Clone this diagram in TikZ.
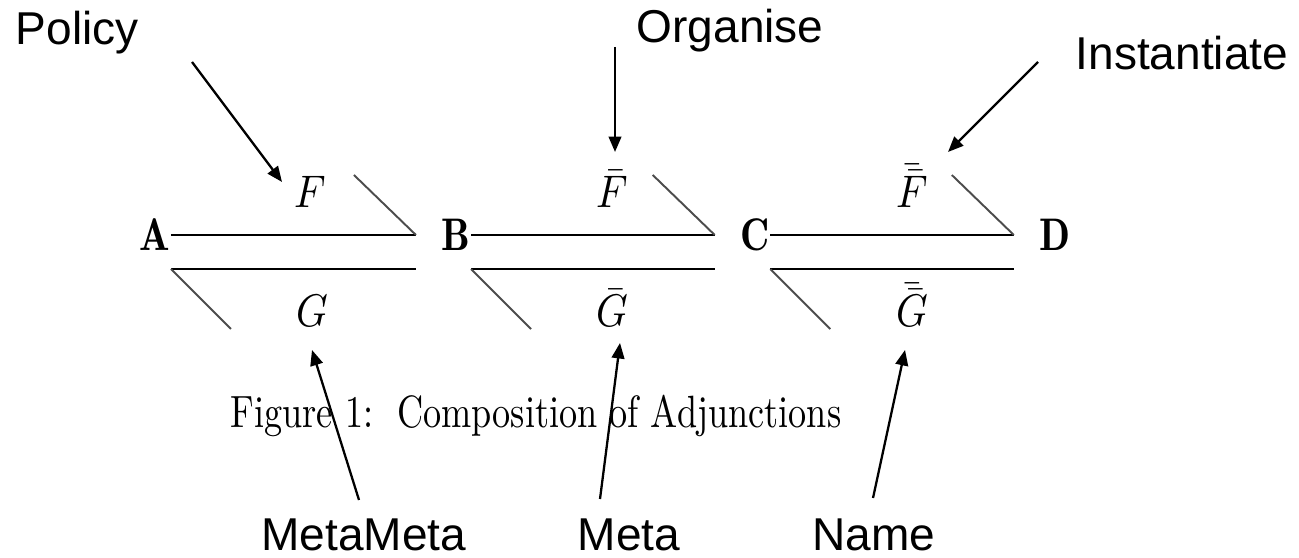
\documentclass[tikz,border=0pt]{standalone}
\usepackage{fontspec}
\newfontfamily\arial{Liberation Sans}
\usetikzlibrary{arrows.meta}
\newcommand{\stretchfig}[1]{\scalebox{1.15}[1.3]{#1}}
\begin{document}
\begin{tikzpicture}[x=0.1mm,y=-0.1mm,
  obj/.style={inner sep=0pt,font=\fontsize{10}{12}\selectfont},
  lbl/.style={inner sep=0pt,font=\fontsize{10}{12}\selectfont,anchor=base},
  note/.style={inner sep=0pt,font=\arial\fontsize{13.1}{15}\selectfont},
  mainline/.style={line width=0.8pt,black},
  barb/.style={line width=0.55pt,black!70},
  pointer/.style={line width=0.65pt,black,-{Triangle[length=4.4pt,width=3.6pt]}}]
\useasboundingbox (0,0) rectangle (1299,558);
% objects
\node[obj] (A) at (155,235) {\stretchfig{$\mathbf{A}$}};
\node[obj] (B) at (456,235) {\stretchfig{$\mathbf{B}$}};
\node[obj] (C) at (755,235) {\stretchfig{$\mathbf{C}$}};
\node[obj] (D) at (1055,235) {\stretchfig{$\mathbf{D}$}};
% labels
\node[lbl] (F1) at (310,208) {\stretchfig{$F$}};
\node[lbl] (F2) at (612,208) {\stretchfig{$\bar{F}$}};
\node[lbl] (F3) at (912,208) {\stretchfig{$\bar{\bar{F}}$}};
\node[lbl] (G1) at (312,327) {\stretchfig{$G$}};
\node[lbl] (G2) at (612,327) {\stretchfig{$\bar{G}$}};
\node[lbl] (G3) at (912,327) {\stretchfig{$\bar{\bar{G}}$}};
% caption
\node[inner sep=0pt,anchor=base,font=\fontsize{10.3}{12}\selectfont] (cap) at (536,428) {\scalebox{1}[1.25]{Figure 1:\ \ Composition of Adjunctions}};
% adjunction arrows
\foreach \s/\t in {A/B,B/C,C/D}{
  \draw[mainline,shorten >=2.5mm] (\s.east) -- (\t.west);
  \draw[barb] ([xshift=-2.5mm]\t.west) -- ++(-62,-60);
  \draw[mainline,shorten <=2.5mm] ([yshift=-3.4mm]\t.west) -- ([yshift=-3.4mm]\s.east);
  \draw[barb] ([yshift=-3.4mm]\s.east) -- ++(60,60);
}
% annotations
\node[note,anchor=base west] (policy) at (15,45) {Policy};
\node[note,anchor=base west] (organise) at (636,43) {Organise};
\node[note,anchor=base west] (inst) at (1075,70) {Instantiate};
\node[note,anchor=base east] (mm) at (467,551) {MetaMeta};
\node[note,anchor=base west] (meta) at (577,551) {Meta};
\node[note,anchor=base west] (name) at (812,551) {Name};
\coordinate (p0) at (192,62);   \coordinate (p1) at (282,182);
\coordinate (o0) at (615,47);   \coordinate (o1) at (615,152);
\coordinate (i0) at (1038,62);  \coordinate (i1) at (948,152);
\coordinate (m0) at (359,500);  \coordinate (m1) at (312,350);
\coordinate (e0) at (600,499);  \coordinate (e1) at (620,343);
\coordinate (n0) at (873,498);  \coordinate (n1) at (905,350);
\draw[pointer] (p0) -- (p1);
\draw[pointer] (o0) -- (o1);
\draw[pointer] (i0) -- (i1);
\draw[pointer] (m0) -- (m1);
\draw[pointer] (e0) -- (e1);
\draw[pointer] (n0) -- (n1);
\end{tikzpicture}
\end{document}
